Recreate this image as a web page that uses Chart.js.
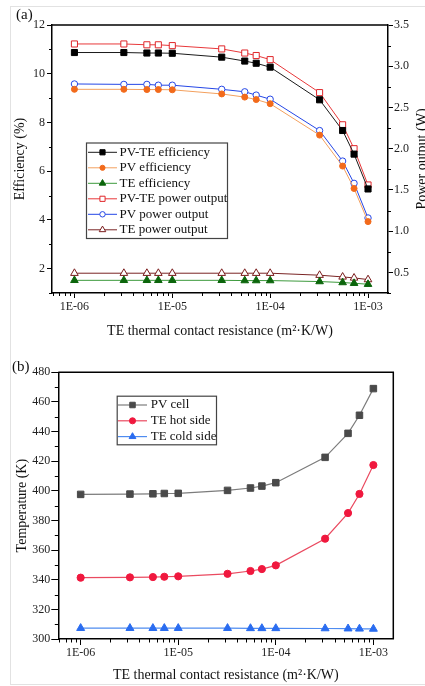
<!DOCTYPE html>
<html>
<head>
<meta charset="utf-8">
<script src="https://cdn.jsdelivr.net/npm/chart.js@4.4.1/dist/chart.umd.min.js"></script>
<style>
  html, body { margin: 0; padding: 0; background: #fff; }
  #page { position: relative; width: 425px; height: 686px; overflow: hidden; }
  #frame { position: absolute; left: 10px; top: 6px; width: 430px; height: 677px;
           border: 1px solid #e2e2e2; border-right: none; }
  canvas { position: absolute; left: 0; }
  #chartA { top: 0; }
  #chartB { top: 345px; }
</style>
</head>
<body>
<div id="page">
  <div id="frame"></div>
  <canvas id="chartA" width="425" height="345"></canvas>
  <canvas id="chartB" width="425" height="341"></canvas>
</div>
<script>
// TE thermal contact resistance (m2·K/W), shared by both panels
const resistance = [1e-6, 3.2e-6, 5.5e-6, 7.2e-6, 1e-5, 3.2e-5, 5.5e-5, 7.2e-5, 1e-4, 3.2e-4, 5.5e-4, 7.2e-4, 1e-3];

// panel (a): efficiency (%) on the left axis
const pvteEfficiency = [10.87, 10.87, 10.85, 10.85, 10.84, 10.68, 10.52, 10.43, 10.27, 8.93, 7.67, 6.70, 5.27];
const pvEfficiency = [9.36, 9.36, 9.35, 9.35, 9.34, 9.17, 9.04, 8.94, 8.77, 7.48, 6.21, 5.29, 3.93];
const teEfficiency = [1.52, 1.52, 1.52, 1.52, 1.52, 1.52, 1.51, 1.51, 1.51, 1.47, 1.43, 1.40, 1.36];

// panel (a): power output (W) on the right axis
const pvtePower = [3.27, 3.27, 3.26, 3.26, 3.25, 3.21, 3.16, 3.13, 3.08, 2.68, 2.29, 2.00, 1.56];
const pvPower = [2.785, 2.78, 2.78, 2.77, 2.77, 2.72, 2.69, 2.65, 2.60, 2.22, 1.85, 1.58, 1.16];
const tePower = [0.49, 0.49, 0.49, 0.49, 0.49, 0.49, 0.49, 0.49, 0.49, 0.466, 0.445, 0.433, 0.413];

// panel (b): temperatures (K)
const pvCellTemp = [397.6, 397.8, 398.0, 398.2, 398.3, 400.3, 401.9, 403.2, 405.5, 422.6, 438.8, 451.0, 469.0];
const teHotTemp = [341.4, 341.6, 341.8, 342.0, 342.3, 344.0, 345.9, 347.2, 349.7, 367.7, 385.0, 397.9, 417.4];
const teColdTemp = [307.3, 307.3, 307.3, 307.3, 307.3, 307.3, 307.2, 307.2, 307.2, 307.1, 307.0, 306.9, 306.8];

// axis ticks
const decadeTicks = [1e-6, 1e-5, 1e-4, 1e-3];
const efficiencyTicks = [2, 4, 6, 8, 10, 12];
const powerTicks = [0.5, 1.0, 1.5, 2.0, 2.5, 3.0, 3.5];
const temperatureTicks = [300, 320, 340, 360, 380, 400, 420, 440, 460, 480];

const xTitle = 'TE thermal contact resistance (m²·K/W)';
const serif = '"Liberation Serif", "DejaVu Serif", serif';

function logMinors() {
  const out = [];
  for (let e = -7; e <= -3; e++) {
    for (let k = 2; k <= 9; k++) out.push(k * Math.pow(10, e));
  }
  return out;
}

function stepMinors(from, to, step) {
  const out = [];
  for (let v = from; v <= to + 1e-9; v += step) out.push(v);
  return out;
}

function points(series) {
  return resistance.map((x, i) => ({ x, y: series[i] }));
}

function fixedTicks(values) {
  return (scale) => { scale.ticks = values.map((value) => ({ value })); };
}

// short unlabelled ticks between the major ones
const minorTicks = {
  id: 'minorTicks',
  afterDraw(chart, args, opts) {
    const { ctx } = chart;
    ctx.save();
    ctx.strokeStyle = '#000';
    ctx.lineWidth = 1;
    Object.entries(opts.axes || {}).forEach(([id, values]) => {
      const scale = chart.scales[id];
      values.forEach((v) => {
        if (v < scale.min || v > scale.max) return;
        const p = Math.round(scale.getPixelForValue(v)) + 0.5;
        ctx.beginPath();
        if (scale.isHorizontal()) {
          ctx.moveTo(p, scale.top);
          ctx.lineTo(p, scale.top + opts.length);
        } else if (scale.position === 'left') {
          ctx.moveTo(scale.right, p);
          ctx.lineTo(scale.right - opts.length, p);
        } else {
          ctx.moveTo(scale.left, p);
          ctx.lineTo(scale.left + opts.length, p);
        }
        ctx.stroke();
      });
    });
    ctx.restore();
  }
};

// closes the plot box and writes the panel letter and any extra title
const panelDecor = {
  id: 'panelDecor',
  afterDraw(chart, args, opts) {
    const { ctx, chartArea: a } = chart;
    ctx.save();
    ctx.strokeStyle = '#000';
    ctx.lineWidth = 1.5;
    ctx.beginPath();
    ctx.moveTo(a.left, a.top);
    ctx.lineTo(a.right, a.top);
    if (opts.closeRight) ctx.lineTo(a.right, a.bottom);
    ctx.stroke();

    ctx.fillStyle = '#111';
    ctx.font = '15px ' + serif;
    ctx.textBaseline = 'middle';
    ctx.textAlign = 'left';
    ctx.fillText(opts.tag, opts.tagX, opts.tagY);

    if (opts.rightTitle) {
      ctx.translate(opts.rightTitle.x, (a.top + a.bottom) / 2);
      ctx.rotate(-Math.PI / 2);
      ctx.font = '14px ' + serif;
      ctx.textAlign = 'center';
      ctx.fillText(opts.rightTitle.text, 0, 0);
    }
    ctx.restore();
  }
};

// boxed legend with a line sample and marker for each dataset
const boxLegend = {
  id: 'boxLegend',
  afterDatasetsDraw(chart, args, opts) {
    const { ctx } = chart;
    ctx.save();
    ctx.fillStyle = '#fff';
    ctx.fillRect(opts.left, opts.top, opts.width, opts.height);
    ctx.strokeStyle = '#444';
    ctx.lineWidth = 1.2;
    ctx.strokeRect(opts.left + 0.5, opts.top + 0.5, opts.width, opts.height);
    ctx.font = '13px ' + serif;
    ctx.textBaseline = 'middle';
    ctx.textAlign = 'left';
    chart.data.datasets.forEach((ds, i) => {
      const y = opts.rowStart + i * opts.rowStep;
      ctx.strokeStyle = ds.borderColor;
      ctx.lineWidth = ds.borderWidth;
      ctx.beginPath();
      ctx.moveTo(opts.sampleLeft, y);
      ctx.lineTo(opts.sampleLeft + opts.sampleWidth, y);
      ctx.stroke();
      ctx.fillStyle = ds.pointBackgroundColor;
      ctx.strokeStyle = ds.pointBorderColor;
      ctx.lineWidth = 1;
      Chart.helpers.drawPoint(ctx, {
        pointStyle: ds.pointStyle,
        radius: ds.pointRadius * 0.85,
        borderWidth: 1,
        rotation: 0
      }, opts.sampleLeft + opts.sampleWidth / 2, y);
      ctx.fillStyle = '#111';
      ctx.fillText(ds.label, opts.textLeft, y);
    });
    ctx.restore();
  }
};

function series(label, data, axis, line, marker, fill, style, radius, width) {
  return {
    label,
    data: points(data),
    yAxisID: axis,
    borderColor: line,
    borderWidth: width || 1,
    pointStyle: style,
    pointRadius: radius,
    pointHoverRadius: radius,
    pointBackgroundColor: fill,
    pointBorderColor: marker,
    pointBorderWidth: 1,
    tension: 0,
    fill: false
  };
}

function xAxis(height, tickLength, padding, titlePad) {
  return {
    type: 'logarithmic',
    min: 5.9e-7,
    max: 1.6e-3,
    afterBuildTicks: fixedTicks(decadeTicks),
    afterFit(scale) { scale.height = height; },
    grid: { drawOnChartArea: false, tickLength, tickColor: '#000', tickWidth: 1 },
    border: { display: true, color: '#000', width: 1.5 },
    ticks: {
      autoSkip: false,
      maxRotation: 0,
      padding,
      color: '#222',
      font: { family: serif, size: 12 },
      callback: (v) => '1E-0' + Math.round(-Math.log10(v))
    },
    title: {
      display: true,
      text: xTitle,
      color: '#111',
      font: { family: serif, size: 14 },
      padding: { top: 0, bottom: titlePad }
    }
  };
}

const chartA = new Chart(document.getElementById('chartA'), {
  type: 'line',
  data: {
    datasets: [
      series('PV-TE efficiency', pvteEfficiency, 'y', '#1a1a1a', '#000', '#000', 'rect', 4.3),
      series('PV efficiency', pvEfficiency, 'y', '#f3a05e', '#f26a1b', '#f26a1b', 'circle', 3),
      series('TE efficiency', teEfficiency, 'y', '#3d9a3d', '#0b650b', '#0b650b', 'triangle', 4.4),
      series('PV-TE power output', pvtePower, 'y1', '#e8383a', '#e0262a', '#fff', 'rect', 4.3),
      series('PV power output', pvPower, 'y1', '#2446e6', '#2446e6', '#fff', 'circle', 3.2),
      series('TE power output', tePower, 'y1', '#7a2424', '#7a1c1c', '#fff', 'triangle', 4.4)
    ]
  },
  options: {
    responsive: false,
    devicePixelRatio: 1,
    animation: false,
    layout: { padding: { top: 25, right: 0, bottom: 0, left: 0 } },
    scales: {
      x: xAxis(52, 5, 1.5, 5.6),
      y: {
        position: 'left',
        min: 1,
        max: 12,
        afterBuildTicks: fixedTicks(efficiencyTicks),
        afterFit(scale) { scale.width = 52; },
        grid: { drawOnChartArea: false, tickLength: 5, tickColor: '#000', tickWidth: 1 },
        border: { display: true, color: '#000', width: 1.5 },
        ticks: { padding: 2, color: '#222', font: { family: serif, size: 12 } },
        title: {
          display: true,
          text: 'Efficiency (%)',
          color: '#111',
          font: { family: serif, size: 14 },
          padding: { top: 11.6, bottom: 0 }
        }
      },
      y1: {
        position: 'right',
        min: 0.25,
        max: 3.5,
        afterBuildTicks: fixedTicks(powerTicks),
        afterFit(scale) { scale.width = 37; },
        grid: { drawOnChartArea: false, tickLength: 5, tickColor: '#000', tickWidth: 1 },
        border: { display: true, color: '#000', width: 1.5 },
        ticks: {
          padding: 1,
          color: '#222',
          font: { family: serif, size: 12 },
          callback: (v) => v.toFixed(1)
        }
      }
    },
    plugins: {
      legend: { display: false },
      tooltip: { enabled: false },
      minorTicks: {
        length: 3,
        axes: { x: logMinors(), y: stepMinors(1, 11, 2), y1: stepMinors(0.25, 3.25, 0.5) }
      },
      panelDecor: {
        tag: '(a)', tagX: 16, tagY: 15,
        closeRight: false,
        rightTitle: { text: 'Power output (W)', x: 422 }
      },
      boxLegend: {
        left: 86, top: 142.5, width: 141, height: 95.5,
        rowStart: 152.3, rowStep: 15.5,
        sampleLeft: 88, sampleWidth: 29, textLeft: 119.5
      }
    }
  },
  plugins: [minorTicks, panelDecor, boxLegend]
});

const chartB = new Chart(document.getElementById('chartB'), {
  type: 'line',
  data: {
    datasets: [
      series('PV cell', pvCellTemp, 'y', '#7c7c7c', '#4a4a4a', '#4a4a4a', 'rect', 4.6, 1.2),
      series('TE hot side', teHotTemp, 'y', '#ea4a60', '#f0183e', '#f0183e', 'circle', 3.6, 1.2),
      series('TE cold side', teColdTemp, 'y', '#4f8cf0', '#2a6cf0', '#2a6cf0', 'triangle', 4.6, 1.2)
    ]
  },
  options: {
    responsive: false,
    devicePixelRatio: 1,
    animation: false,
    layout: { padding: { top: 27.3, right: 31.7, bottom: 0, left: 0 } },
    scales: {
      x: xAxis(47, 6, 1, 2.6),
      y: {
        position: 'left',
        min: 300,
        max: 480,
        afterBuildTicks: fixedTicks(temperatureTicks),
        afterFit(scale) { scale.width = 58.3; },
        grid: { drawOnChartArea: false, tickLength: 7, tickColor: '#000', tickWidth: 1 },
        border: { display: true, color: '#000', width: 1.5 },
        ticks: { padding: 1, color: '#222', font: { family: serif, size: 12 } },
        title: {
          display: true,
          text: 'Temperature (K)',
          color: '#111',
          font: { family: serif, size: 14 },
          padding: { top: 13.6, bottom: 0 }
        }
      }
    },
    plugins: {
      legend: { display: false },
      tooltip: { enabled: false },
      minorTicks: {
        length: 3.5,
        axes: { x: logMinors(), y: stepMinors(310, 470, 20) }
      },
      panelDecor: {
        tag: '(b)', tagX: 12, tagY: 22.5,
        closeRight: true
      },
      boxLegend: {
        left: 116.7, top: 50.7, width: 99.3, height: 48.6,
        rowStart: 60, rowStep: 15.8,
        sampleLeft: 118, sampleWidth: 29, textLeft: 150.7
      }
    }
  },
  plugins: [minorTicks, panelDecor, boxLegend]
});
</script>
</body>
</html>
